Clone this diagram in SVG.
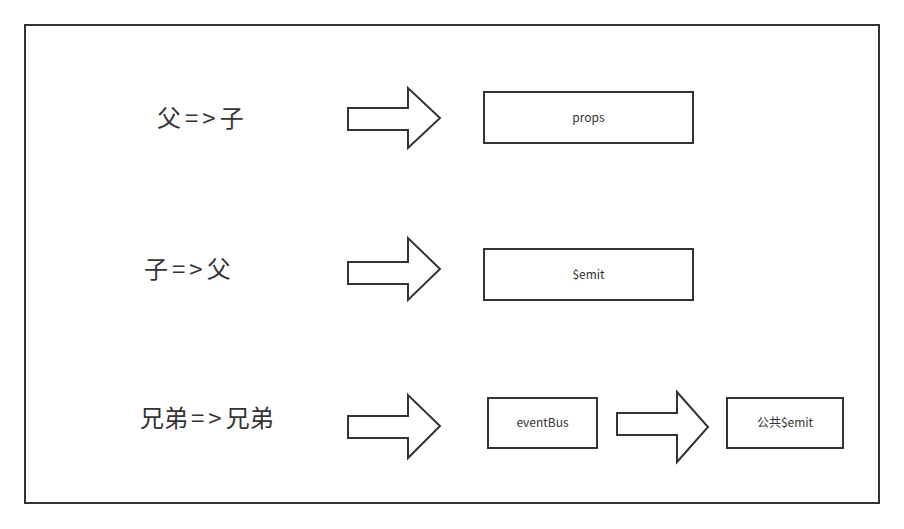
<svg xmlns="http://www.w3.org/2000/svg" width="904" height="529" viewBox="0 0 904 529">
<style>
.frame{fill:#fff;stroke:#333;stroke-width:2}
.box{fill:#fff;stroke:#333;stroke-width:2}
.arr{fill:#fff;stroke:#333;stroke-width:2;stroke-linejoin:miter}
.big{font-family:"Noto Sans CJK SC","Liberation Sans",sans-serif;font-size:24px;fill:#333}
.small{font-family:"Noto Sans CJK SC","Liberation Sans",sans-serif;font-size:12px;fill:#333;text-anchor:middle}
</style>
<rect width="904" height="529" fill="#fff"/>
<rect class="frame" x="25" y="25" width="854" height="478"/>
<g id="label-fz"><text class="big" x="157" y="127">父<tspan dx="4">=</tspan><tspan dx="4">&gt;</tspan><tspan dx="4">子</tspan></text></g>
<g id="label-zf"><text class="big" x="144" y="278">子<tspan dx="4">=</tspan><tspan dx="4">&gt;</tspan><tspan dx="4">父</tspan></text></g>
<g id="label-xd"><text class="big" x="140" y="427">兄弟<tspan dx="3">=</tspan><tspan dx="4">&gt;</tspan><tspan dx="4">兄弟</tspan></text></g>
<g id="props"><rect class="box" x="484" y="92" width="209" height="51"/><text class="small" x="588.5" y="122">props</text></g>
<g id="emit"><rect class="box" x="484" y="249" width="209" height="51"/><text class="small" x="588.5" y="279">$emit</text></g>
<g id="eventBus"><rect class="box" x="488" y="398" width="109" height="50"/><text class="small" x="542.5" y="427">eventBus</text></g>
<g id="publicEmit"><rect class="box" x="727" y="398" width="116" height="50"/><text class="small" x="785" y="427">公共$emit</text></g>
<g id="connectors">
<polygon class="arr" points="348,108 408,108 408,88 440,118 408,148 408,130 348,130"/>
<polygon class="arr" points="348,262 408,262 408,238 440,269 408,300 408,284 348,284"/>
<polygon class="arr" points="348,416 408,416 408,395 440,426 408,458 408,438 348,438"/>
<polygon class="arr" points="617,413 677,413 677,392 708,427 677,462 677,435 617,435"/>
</g>
</svg>
